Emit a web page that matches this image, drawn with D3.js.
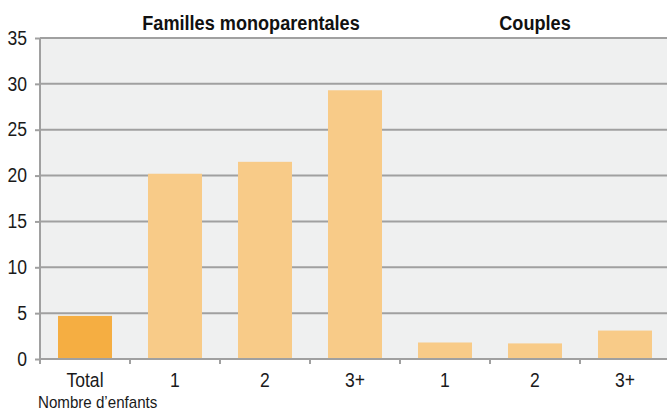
<!DOCTYPE html>
<html>
<head>
<meta charset="utf-8">
<script src="https://cdn.jsdelivr.net/npm/d3@7"></script>
<style>
	body { margin: 0; background: #fff; }
	svg { display: block; font-family: "Liberation Sans Narrow", "Arial Narrow", "Liberation Sans", sans-serif; }
</style>
</head>
<body>
<div id="chart"></div>
<script>
// categories and values
const categories = ["Total", "M1", "M2", "M3+", "C1", "C2", "C3+"];
const tickLabels = ["Total", "1", "2", "3+", "1", "2", "3+"];
const values = [4.7, 20.2, 21.5, 29.3, 1.8, 1.7, 3.1];
const yTicks = [0, 5, 10, 15, 20, 25, 30, 35];
const groups = [
	{ label: "Familles monoparentales", from: "M1", to: "M3+" },
	{ label: "Couples", from: "C1", to: "C3+" }
];

const width = 667, height = 412;
const margin = { top: 38, right: -3, bottom: 53, left: 40 };
const squeeze = 0.9; // condensed look

let scale = {
	x: d3.scaleBand().domain(categories).range([margin.left, width - margin.right]).paddingInner(0.4).paddingOuter(0.2),
	y: d3.scaleLinear().domain([0, 35]).range([height - margin.bottom, margin.top])
};

let svg = d3.select("#chart").append("svg")
	.attr("width", width)
	.attr("height", height);

// plot background
svg.append("rect")
	.attr("x", margin.left)
	.attr("y", scale.y(35))
	.attr("width", width - margin.left)
	.attr("height", scale.y(0) - scale.y(35))
	.attr("fill", "#eff0f0");

// gridlines
svg.append("g")
	.selectAll("line")
	.data(yTicks.filter(d => d > 0))
	.enter()
	.append("line")
		.attr("x1", margin.left)
		.attr("x2", width)
		.attr("y1", d => scale.y(d))
		.attr("y2", d => scale.y(d))
		.attr("stroke", "#a0a0a0")
		.attr("stroke-width", 2);

// bars
svg.append("g")
	.selectAll("rect")
	.data(categories)
	.enter()
	.append("rect")
		.attr("x", d => scale.x(d))
		.attr("width", scale.x.bandwidth())
		.attr("y", (d, i) => scale.y(values[i]))
		.attr("height", (d, i) => scale.y(0) - scale.y(values[i]))
		.attr("fill", (d, i) => i === 0 ? "#f5ae42" : "#f8cb88");

// y axis
let yAxis = svg.append("g")
	.attr("transform", `translate(${margin.left}, 0)`)
	.call(d3.axisLeft(scale.y).tickValues(yTicks).tickSize(5).tickPadding(9.5));
yAxis.select(".domain").attr("stroke", "#a0a0a0").attr("stroke-width", 2).attr("d", `M0,${scale.y(35)}V${scale.y(0) + 5}`);
yAxis.selectAll(".tick line").attr("stroke", "#a0a0a0").attr("stroke-width", 2);
yAxis.selectAll(".tick text")
	.attr("font-size", 19.5)
	.attr("fill", "#1a1a1a")
	.attr("transform", `scale(${squeeze},1)`);

// x axis
let xAxis = svg.append("g")
	.attr("transform", `translate(0, ${scale.y(0)})`)
	.call(d3.axisBottom(scale.x).tickSize(0).tickPadding(14).tickFormat((d, i) => tickLabels[i]));
xAxis.select(".domain").attr("stroke", "#a0a0a0").attr("stroke-width", 2).attr("d", `M${margin.left},0H${width}`);
xAxis.selectAll(".tick text")
	.attr("font-size", 19.5)
	.attr("fill", "#1a1a1a")
	.attr("transform", `scale(${squeeze},1)`);

// band separators
xAxis.selectAll(".sep")
	.data(categories)
	.enter()
	.append("line")
		.attr("class", "sep")
		.attr("x1", d => scale.x(d) - scale.x.step() * scale.x.paddingInner() / 2)
		.attr("x2", d => scale.x(d) - scale.x.step() * scale.x.paddingInner() / 2)
		.attr("y1", 0)
		.attr("y2", 5)
		.attr("stroke", "#a0a0a0")
		.attr("stroke-width", 2);

// group titles
svg.append("g")
	.selectAll("text")
	.data(groups)
	.enter()
	.append("text")
		.attr("transform", (d, i) => {
			let cx = i === 0 ? 251 : (scale.x(d.from) + scale.x(d.to) + scale.x.bandwidth()) / 2;
			return `translate(${cx},30) scale(0.93,1)`;
		})
		.attr("text-anchor", "middle")
		.attr("font-size", 19.5)
		.attr("font-weight", "bold")
		.attr("fill", "#111")
		.text(d => d.label);

svg.append("text")
	.attr("transform", `translate(38,408) scale(0.89,1)`)
	.attr("font-size", 17)
	.attr("fill", "#1a1a1a")
	.text("Nombre d’enfants");
</script>
</body>
</html>
